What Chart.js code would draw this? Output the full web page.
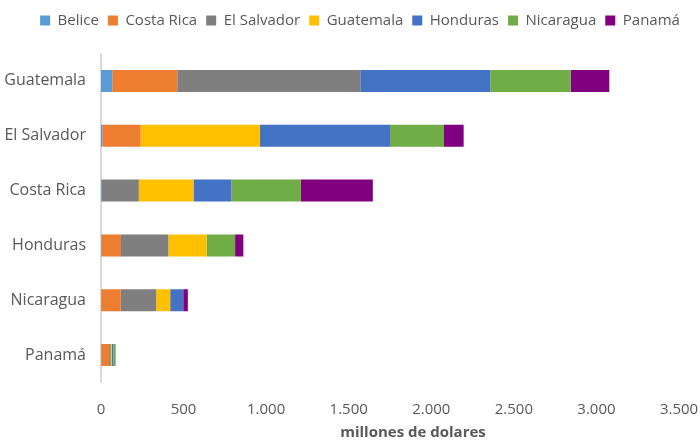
<!DOCTYPE html>
<html>
<head>
<meta charset="utf-8">
<script src="https://cdn.jsdelivr.net/npm/chart.js@4.4.1/dist/chart.umd.min.js"></script>
<style>
  html, body { margin: 0; padding: 0; background: #fff; }
  #wrap { width: 700px; height: 440px; }
</style>
</head>
<body>
<div id="wrap"><canvas id="c" width="700" height="440"></canvas></div>
<script>
const categories = ["Guatemala", "El Salvador", "Costa Rica", "Honduras", "Nicaragua", "Panamá"];
const seriesNames = ["Belice", "Costa Rica", "El Salvador", "Guatemala", "Honduras", "Nicaragua", "Panamá"];
const belice     = [68, 8, 3, 2, 1, 1];
const costaRica  = [394, 232, 0, 119, 119, 48];
const elSalvador = [1108, 0, 226, 287, 214, 10];
const guatemala  = [0, 723, 331, 232, 85, 6];
const honduras   = [787, 787, 230, 0, 79, 10];
const nicaragua  = [487, 327, 420, 172, 0, 14];
const panama     = [234, 119, 436, 50, 28, 0];
const colors = ["#5B9BD5", "#ED7D31", "#7F7F7F", "#FFC000", "#4472C4", "#70AD47", "#800080"];
const xTicks = [0, 500, 1000, 1500, 2000, 2500, 3000, 3500];

const seriesData = [belice, costaRica, elSalvador, guatemala, honduras, nicaragua, panama];
const FONT = "'Open Sans', 'Noto Sans', sans-serif";
const TXT = "#595959";

const layoutTweaks = {
  id: "layoutTweaks",
  beforeInit(chart) {
    const lg = chart.legend;
    const fit = lg.fit;
    lg.fit = function () {
      fit.call(this);
      this.height += 15.5;
    };
    const draw = lg.draw;
    lg.draw = function () {
      const ctx = this.ctx;
      ctx.save();
      ctx.translate(10, 0);
      draw.call(this);
      ctx.restore();
    };
  },
  beforeDraw(chart) {
    const sx = chart.scales.x;
    if (sx && !sx._titlePatched) {
      const dt = sx.drawTitle;
      sx.drawTitle = function () {
        const ctx = this.ctx;
        ctx.save();
        ctx.translate(23, 0);
        dt.call(this);
        ctx.restore();
      };
      sx._titlePatched = true;
    }
  }
};

new Chart(document.getElementById("c"), {
  type: "bar",
  data: {
    labels: categories,
    datasets: seriesNames.map((n, i) => ({
      label: n,
      data: seriesData[i],
      backgroundColor: colors[i],
      borderWidth: 0,
      barPercentage: 0.4,
      categoryPercentage: 1.0
    }))
  },
  plugins: [layoutTweaks],
  options: {
    indexAxis: "y",
    responsive: false,
    animation: false,
    layout: { padding: { left: 0, right: 0, top: 4, bottom: 0 } },
    plugins: {
      legend: {
        position: "top",
        labels: {
          boxWidth: 10, boxHeight: 10, padding: 9,
          color: TXT,
          font: { family: FONT, size: 15 }
        }
      },
      tooltip: { enabled: false }
    },
    scales: {
      x: {
        stacked: true,
        min: 0, max: 3500,
        afterBuildTicks: (s) => { s.ticks = xTicks.map(v => ({ value: v })); },
        grid: { display: false, drawTicks: false },
        border: { display: false },
        ticks: {
          color: TXT, padding: 18,
          font: { family: FONT, size: 15 },
          callback: (v) => v.toLocaleString("de-DE")
        },
        title: {
          display: true, text: "millones de dolares", color: TXT,
          font: { family: FONT, size: 15, weight: "bold", lineHeight: 1.0 },
          padding: { top: 0, bottom: 0 }
        },
        afterFit: (s) => { s.height = 57.5; s.paddingRight = 21; s.paddingLeft = 0; }
      },
      y: {
        stacked: true,
        grid: { display: false, drawTicks: false },
        border: { display: true, color: "#d9d9d9", width: 2 },
        ticks: { color: TXT, padding: 15, font: { family: FONT, size: 16 } },
        afterFit: (s) => { s.width = 101; }
      }
    }
  }
});
</script>
</body>
</html>
